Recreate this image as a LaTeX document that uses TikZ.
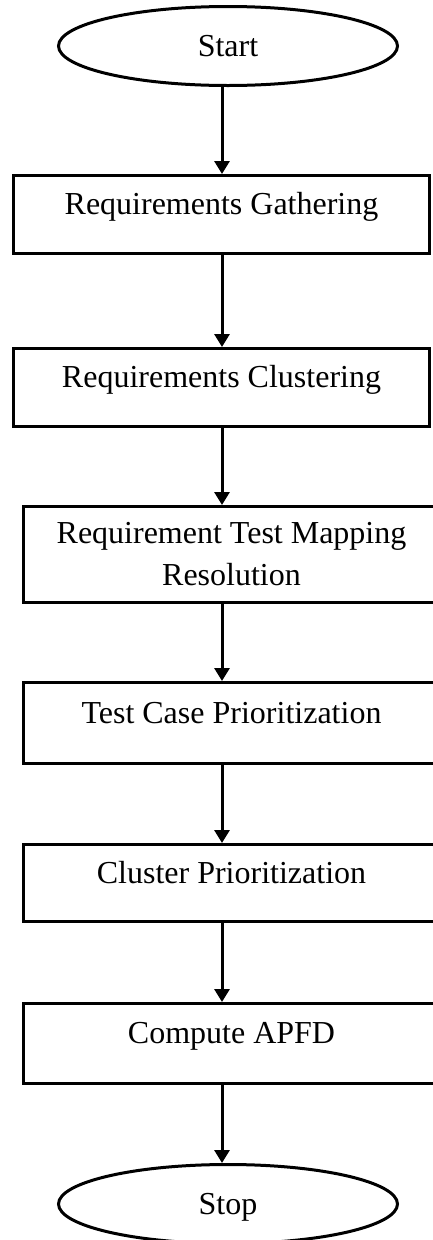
\documentclass[tikz,border=0pt]{standalone}
\usepackage{fontspec}
\setmainfont{Liberation Serif}
\usetikzlibrary{shapes.geometric,arrows.meta}
\begin{document}
\begin{tikzpicture}[x=1pt,y=-1pt,
  box/.style={draw, line width=3pt, rectangle, minimum width=416pt, inner sep=0pt,
    font=\fontsize{32}{42}\selectfont, align=center},
  oneline/.style={text height=22pt, text depth=22pt},
  term/.style={draw, ellipse, line width=3pt, minimum width=339pt, minimum height=79pt,
    inner sep=0pt, font=\fontsize{32}{42}\selectfont, text height=22pt, text depth=2pt},
  arr/.style={line width=3pt, -{Triangle[width=15pt,length=13pt]}}]
\useasboundingbox (0,0) rectangle (432,1240);
\coordinate (axis) at (222,0);
\node[term] (start) at (228,46) {Start};
\node[box, oneline, minimum height=78pt] (b1) at (221.5,214.5) {Requirements Gathering};
\node[box, oneline, minimum height=78pt] (b2) at (221.5,387.5) {Requirements Clustering};
\node[box, minimum height=96pt] (b3) at (231.5,554.5) {Requirement Test Mapping\\Resolution};
\node[box, oneline, minimum height=81pt] (b4) at (231.5,723) {Test Case Prioritization};
\node[box, oneline, minimum height=77pt] (b5) at (231.5,883) {Cluster Prioritization};
\node[box, oneline, minimum height=80pt] (b6) at (231.5,1043.5) {Compute APFD};
\node[term] (stop) at (228,1204) {Stop};
\draw[arr] (start.south -| axis) -- (b1.north -| axis);
\draw[arr] (b1.south -| axis) -- (b2.north -| axis);
\draw[arr] (b2.south -| axis) -- (b3.north -| axis);
\draw[arr] (b3.south -| axis) -- (b4.north -| axis);
\draw[arr] (b4.south -| axis) -- (b5.north -| axis);
\draw[arr] (b5.south -| axis) -- (b6.north -| axis);
\draw[arr] (b6.south -| axis) -- (stop.north -| axis);
\end{tikzpicture}
\end{document}
